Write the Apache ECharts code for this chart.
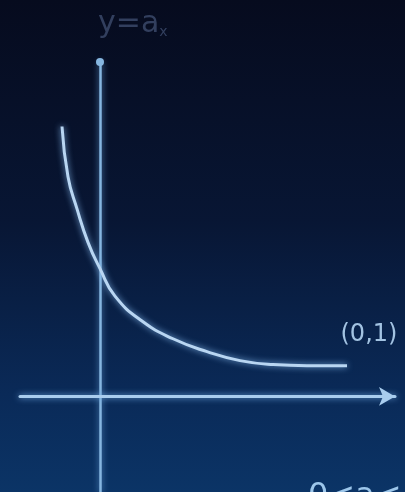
<!DOCTYPE html>
<html>
<head>
<meta charset="utf-8">
<style>
html,body{margin:0;padding:0;background:#07102a;}
#chart{width:405px;height:492px;}
</style>
<script src="https://cdn.jsdelivr.net/npm/echarts@6/dist/echarts.min.js"></script>
</head>
<body>
<div id="chart"></div>
<script>
// Curve y = a^x (0<a<1) points
var curveX = [-0.76, -0.64, -0.46, -0.24, 0, 0.3, 0.86, 1.46, 2.14, 2.8, 3.46, 4.14, 4.94];
var curveY = [2.26, 1.84, 1.57, 1.29, 1.07, 0.84, 0.625, 0.483, 0.375, 0.30, 0.267, 0.258, 0.258];
var titleText = 'y=a';
var titleSup = 'x';
var pointLabel = '(0,1)';
var conditionText = '0<a<1';

var chart = echarts.init(document.getElementById('chart'), null, {renderer: 'canvas'});
var data = curveX.map(function (x, i) { return [x, curveY[i]]; });
chart.setOption({
  backgroundColor: {
    type: 'linear', x: 0, y: 0, x2: 0, y2: 1,
    colorStops: [
      {offset: 0, color: '#060b1e'},
      {offset: 0.45, color: '#081634'},
      {offset: 0.8, color: '#0a2a58'},
      {offset: 1, color: '#0b3466'}
    ]
  },
  animation: false,
  title: {
    text: '{m|' + titleText + '}{s|' + titleSup + '}',
    left: 93, top: 4,
    textStyle: {
      rich: {
        m: {fontSize: 30, color: '#323f5e', fontFamily: 'DejaVu Sans', fontWeight: 'normal'},
        s: {fontSize: 14, color: '#323f5e', fontFamily: 'DejaVu Sans', fontWeight: 'normal', verticalAlign: 'bottom', padding: [16, 0, 0, 0]}
      }
    }
  },
  grid: {left: 20, width: 375, top: 62, height: 432, containLabel: false},
  xAxis: {
    type: 'value', min: -1.6, max: 5.9,
    axisLine: {onZero: true, show: true, symbol: ['none', 'arrow'], symbolSize: [14, 16],
      lineStyle: {color: '#a9cdee', width: 3, shadowColor: '#6fa8e0', shadowBlur: 6}},
    axisTick: {show: false}, axisLabel: {show: false}, splitLine: {show: false}
  },
  yAxis: {
    type: 'value', min: -0.8, max: 2.8,
    axisLine: {onZero: true, show: true, symbol: ['none', 'circle'], symbolSize: [8, 8],
      lineStyle: {color: '#86b6e0', width: 2.5, shadowColor: '#5c95cc', shadowBlur: 6}},
    axisTick: {show: false}, axisLabel: {show: false}, splitLine: {show: false}
  },
  series: [{
    type: 'line',
    data: data,
    smooth: 0.5,
    showSymbol: false,
    lineStyle: {color: '#b9d6f2', width: 3, shadowColor: '#7fb2e6', shadowBlur: 6},
    markPoint: {
      symbol: 'circle', symbolSize: 1,
      data: [{coord: [curveX[curveX.length - 1], curveY[curveY.length - 1]]}],
      label: {show: true, formatter: pointLabel, position: [-6, -42], color: '#a3c3e2', fontSize: 24, fontFamily: 'DejaVu Sans'},
      itemStyle: {color: 'rgba(0,0,0,0)'}
    }
  }],
  graphic: [{
    type: 'text', left: 308, top: 481,
    style: {text: conditionText, fill: '#9cc6ea', font: '32px DejaVu Sans'}
  }]
});
</script>
</body>
</html>
